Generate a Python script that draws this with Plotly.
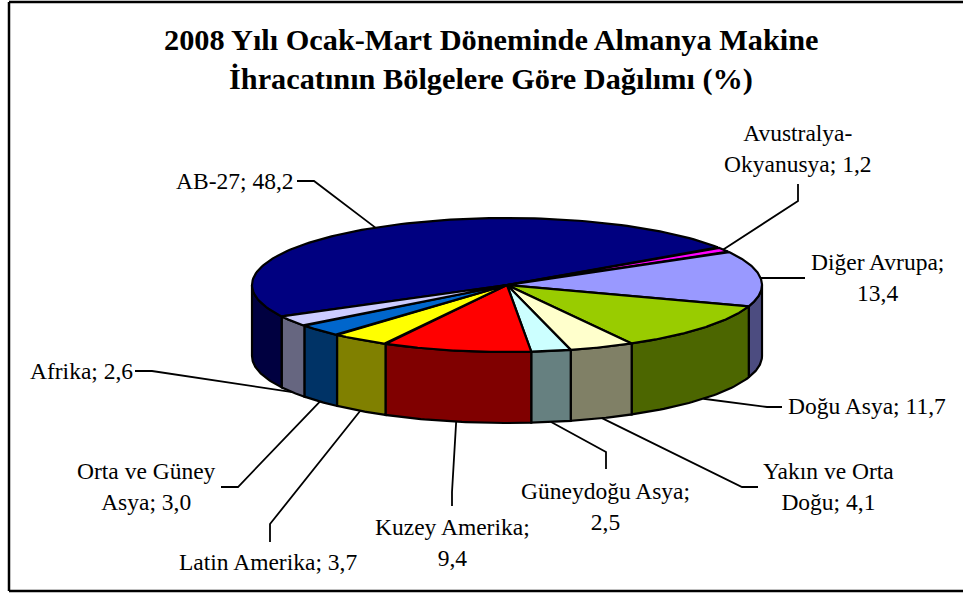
import numpy as np
import plotly.graph_objects as go

categories = ["AB-27", "Avustralya-<br>Okyanusya", "Diğer Avrupa;<br>", "Doğu Asya", "Yakın ve Orta<br>Doğu",
              "Güneydoğu Asya;<br>", "Kuzey Amerika;<br>", "Latin Amerika", "Orta ve Güney<br>Asya", "Afrika"]
values = [48.2, 1.2, 13.4, 11.7, 4.1, 2.5, 9.4, 3.7, 3.0, 2.6]
top_colors = ["#000080", "#FF00FF", "#9999FF", "#99CC00", "#FFFFCC", "#CCFFFF", "#FF0000", "#FFFF00", "#0066CC", "#CCCCFF"]
side_colors = ["#000040", "#800080", "#4C4C80", "#4C6600", "#808066", "#668080", "#800000", "#808000", "#003366", "#666680"]
title_lines = ["2008 Yılı Ocak-Mart Döneminde Almanya Makine", "İhracatının Bölgelere Göre Dağılımı (%)"]

# layout of the pie (pixels) and of the labels
CX, CY, RX, RY, DEPTH, START = 507, 285, 255, 67, 71, 242
label_xy = [(235, 181), (798, 148.5), (877, 277), (867, 406), (828, 486),
            (605, 506), (452, 542), (268, 562), (146, 486), (81, 371)]
elbows = [(314, 181), (798, 201), (761, 278), (767, 407), (742, 487),
          (606, 452), (452, 492), (270, 524), (238, 487), (152, 371)]
line_ends = [(297, 181), (798, 184), (805, 278), (782, 407), (758, 487),
             (606, 469), (452, 506), (270, 542), (221, 487), (135, 371)]
FONT = "Liberation Serif"


def rim(deg, drop=0.0):
    t = np.radians(deg)
    return CX + RX * np.sin(t), CY - RY * np.cos(t) + drop


fractions = np.array(values) / sum(values) * 360
ends = START + np.cumsum(fractions)
starts = ends - fractions
mids = (starts + ends) / 2

fig = go.Figure()


def poly(xs, ys, color):
    fig.add_trace(go.Scatter(x=xs, y=ys, mode="lines", fill="toself", fillcolor=color,
                             line=dict(color="black", width=2.2), hoverinfo="skip", showlegend=False))


# visible side walls: parts of the rim between 90 and 270 degrees from the top
for s, e, c in zip(starts, ends, side_colors):
    for shift in (0, -360, 360):
        a, b = max(s + shift, 90), min(e + shift, 270)
        if a < b:
            t = np.linspace(a, b, 40)
            x1, y1 = rim(t)
            x2, y2 = rim(t[::-1], DEPTH)
            poly(np.r_[x1, x2, x1[0]], np.r_[y1, y2, y1[0]], c)

# top faces
for s, e, c in zip(starts, ends, top_colors):
    t = np.linspace(s, e, 120)
    x, y = rim(t)
    poly(np.r_[CX, x, CX], np.r_[CY, y, CY], c)

# leader lines, anchored on each slice's middle angle
for m, el, en in zip(mids, elbows, line_ends):
    ax, ay = rim(m)
    if 90 < (m % 360) < 270:
        ay = ay + DEPTH
    fig.add_trace(go.Scatter(x=[ax, el[0], en[0]], y=[ay, el[1], en[1]], mode="lines",
                             line=dict(color="black", width=1.8), hoverinfo="skip", showlegend=False))

annotations = []
for cat, v, (lx, ly) in zip(categories, values, label_xy):
    val = f"{v:.1f}".replace(".", ",")
    text = f"{cat}{val}" if cat.endswith("<br>") else f"{cat}; {val}"
    annotations.append(dict(x=lx, y=ly, text=text, showarrow=False, xanchor="center", yanchor="middle",
                            font=dict(family=FONT, size=23.5, color="black")))
for line, ty in zip(title_lines, (40, 79)):
    annotations.append(dict(x=490.5, y=ty, text=f"<b>{line}</b>", showarrow=False, xanchor="center", yanchor="middle",
                            font=dict(family=FONT, size=30.3, color="black")))

frame = dict(color="black", width=2.5)
shapes = [
    dict(type="line", x0=9, y0=2, x1=963, y1=2, line=frame),
    dict(type="line", x0=9, y0=2, x1=9, y1=591, line=frame),
    dict(type="line", x0=9, y0=591, x1=963, y1=591, line=frame),
]

fig.update_layout(
    width=963, height=593, margin=dict(l=0, r=0, t=0, b=0),
    paper_bgcolor="white", plot_bgcolor="white", showlegend=False,
    xaxis=dict(range=[0, 963], visible=False, fixedrange=True),
    yaxis=dict(range=[593, 0], visible=False, fixedrange=True),
    annotations=annotations, shapes=shapes,
)
fig.write_html("out.html", config={"displayModeBar": False},
               post_script="document.body.style.margin='0';document.documentElement.style.overflow='hidden';")
